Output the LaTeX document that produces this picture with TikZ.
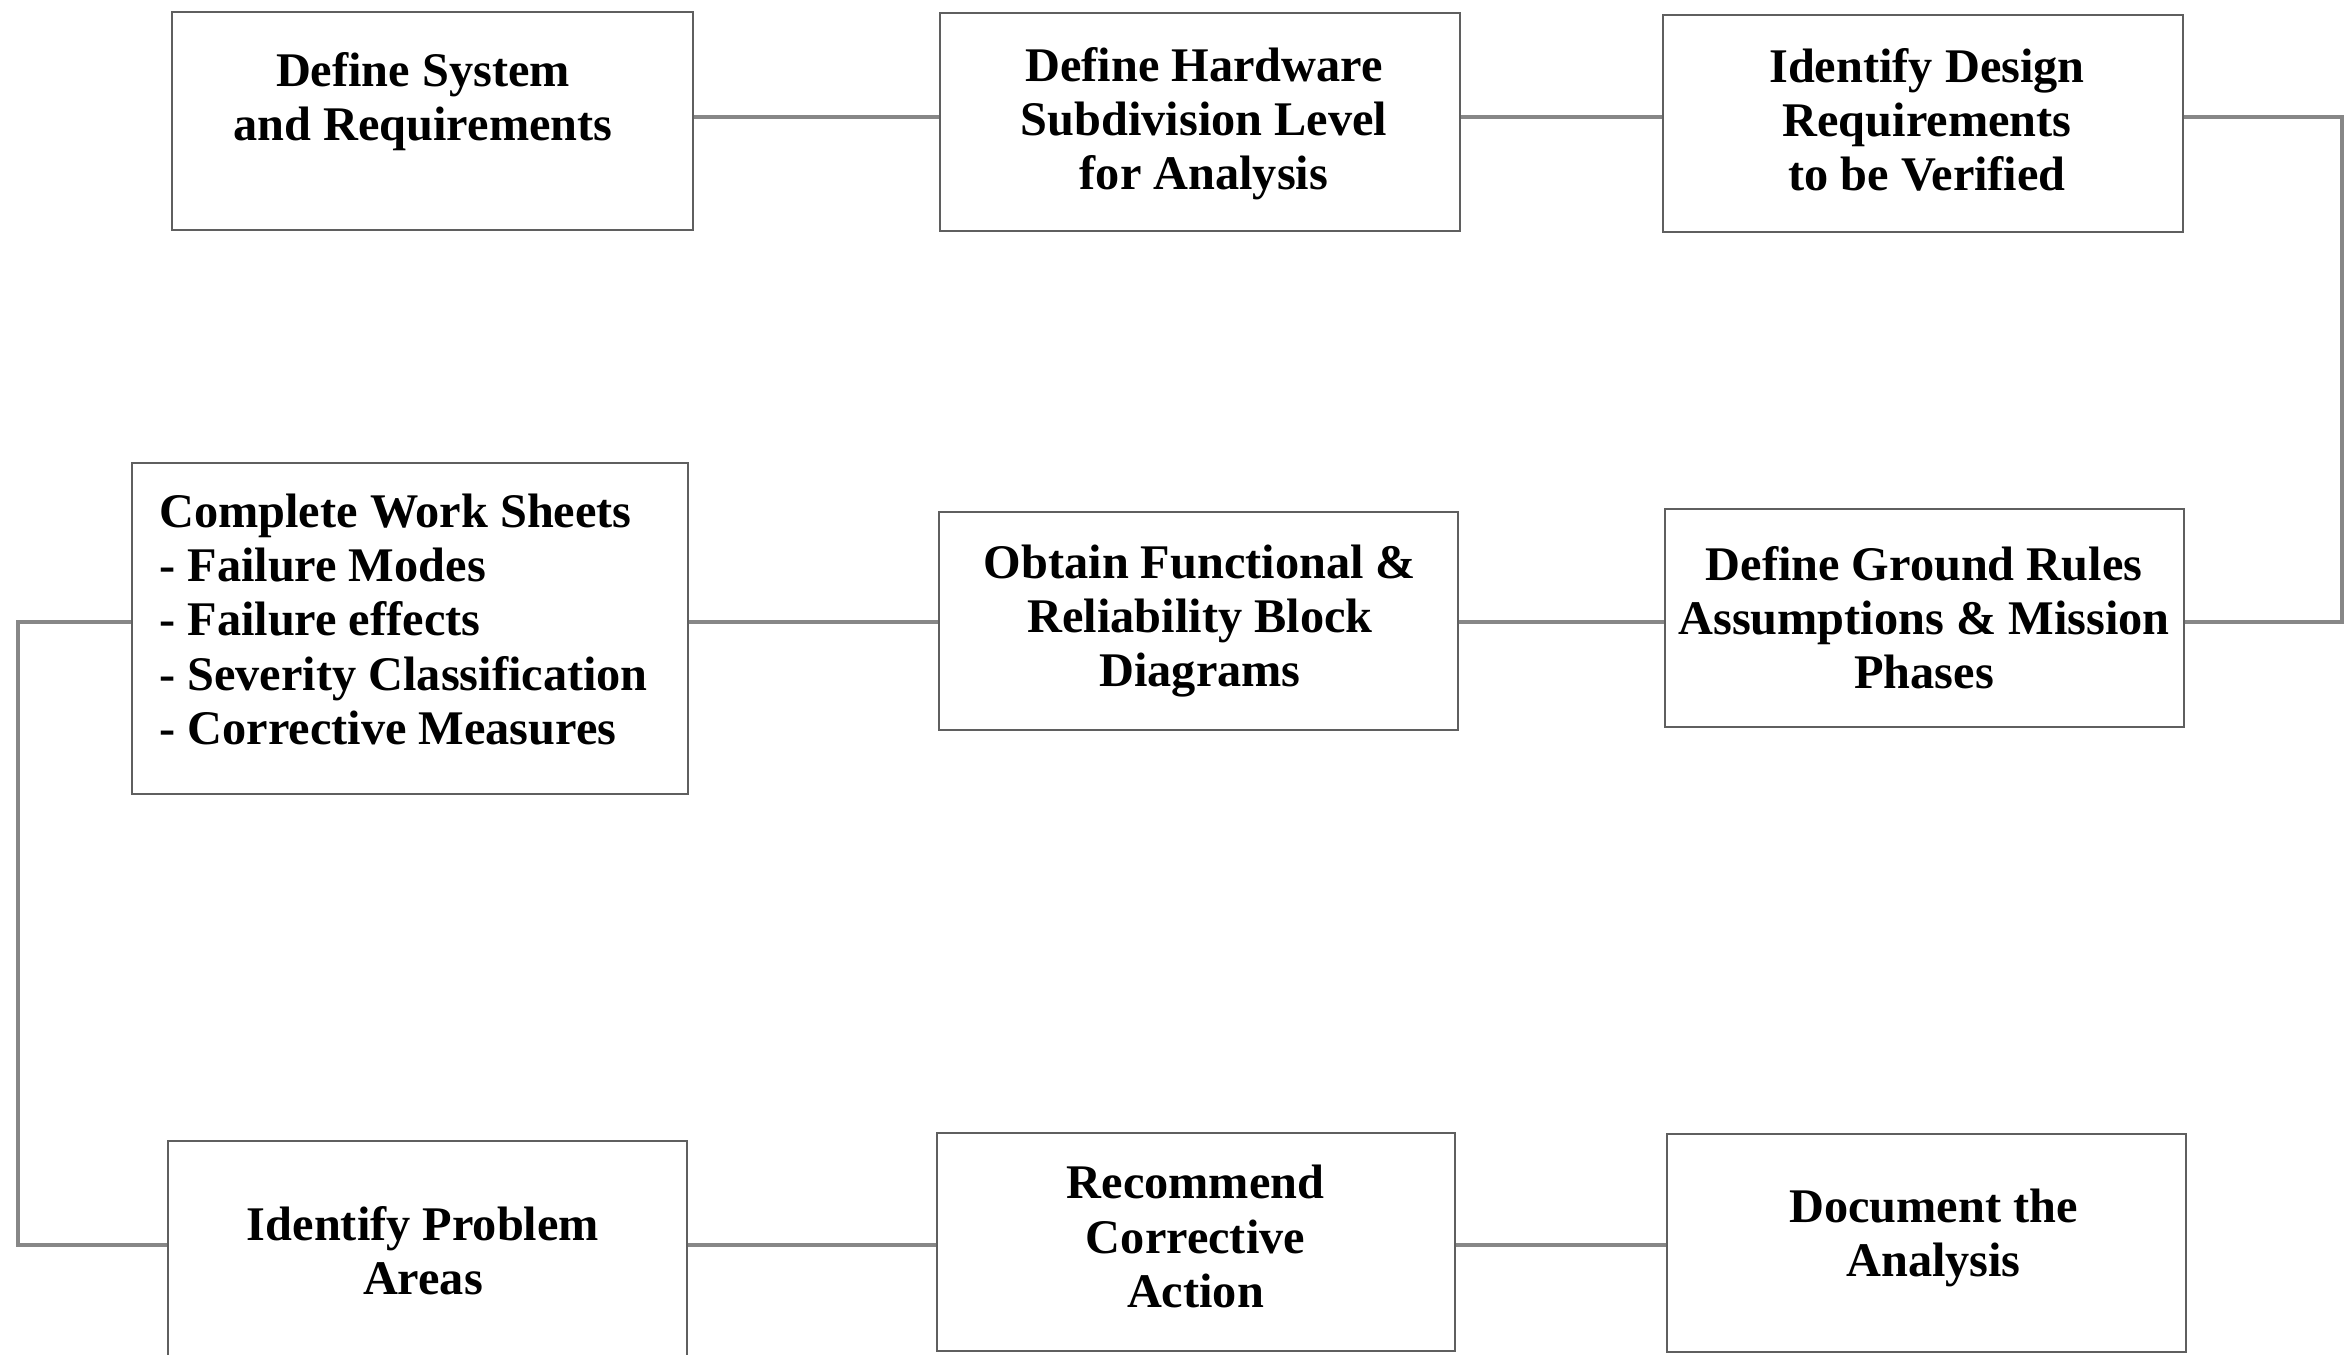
\documentclass[tikz,border=0pt]{standalone}
\usepackage{fontspec}
\setmainfont{Liberation Serif}
\definecolor{boxline}{RGB}{95,95,95}
\definecolor{connline}{RGB}{135,135,135}
\begin{document}
\begin{tikzpicture}[x=0.02cm,y=-0.02cm,
  box/.style={draw=boxline,line width=1.6pt,rectangle,inner sep=0pt,fill=white},
  txt/.style={font=\fontsize{27.5}{30.8}\selectfont\bfseries,align=center,inner sep=0pt},
  conn/.style={draw=connline,line width=2pt}]
\useasboundingbox (0,0) rectangle (2352,1355);
\fill[white] (0,0) rectangle (2352,1355);
% row coordinates
\coordinate (r1) at (0,117);
\coordinate (r2) at (0,622);
\coordinate (r3) at (0,1245);
\coordinate (cr) at (2342,370);
\coordinate (cl) at (18,900);
% boxes
\node[box,minimum width=521*0.02cm,minimum height=218*0.02cm] (b1) at (432.5,121) {};
\node[box,minimum width=520*0.02cm,minimum height=218*0.02cm] (b2) at (1200,122) {};
\node[box,minimum width=520*0.02cm,minimum height=217*0.02cm] (b3) at (1923,123.5) {};
\node[box,minimum width=556*0.02cm,minimum height=331*0.02cm] (b4) at (410,628.5) {};
\node[box,minimum width=519*0.02cm,minimum height=218*0.02cm] (b5) at (1198.5,621) {};
\node[box,minimum width=519*0.02cm,minimum height=218*0.02cm] (b6) at (1924.5,618) {};
\node[box,minimum width=519*0.02cm,minimum height=300*0.02cm] (b7) at (427.5,1291) {};
\node[box,minimum width=518*0.02cm,minimum height=218*0.02cm] (b8) at (1196,1242) {};
\node[box,minimum width=519*0.02cm,minimum height=218*0.02cm] (b9) at (1926.5,1243) {};
% texts
\node[txt] (t1) at (423,102) {Define System\\and Requirements};
\node[txt] (t2) at (1204,124) {Define Hardware\\Subdivision Level\\for Analysis};
\node[txt] (t3) at (1927,120) {Identify Design\\Requirements\\to be Verified};
\node[txt,align=left,anchor=west] (t4) at (159,619.5) {Complete Work Sheets\\- Failure Modes\\- Failure effects\\- Severity Classification\\- Corrective Measures};
\node[txt] (t5) at (1200,621) {Obtain Functional \&\\Reliability Block\\Diagrams};
\node[txt] (t6) at (1924,618) {Define Ground Rules\\Assumptions \& Mission\\Phases};
\node[txt] (t7) at (423,1250.5) {Identify Problem\\Areas};
\node[txt] (t8) at (1195.5,1236.5) {Recommend\\Corrective\\Action};
\node[txt] (t9) at (1933.5,1237.5) {Document the\\Analysis};
% connectors
\draw[conn] (b1.east |- r1) -- (b2.west |- r1);
\draw[conn] (b2.east |- r1) -- (b3.west |- r1);
\draw[conn] (b3.east |- r1) -| (cr) |- (b6.east |- r2);
\draw[conn] (b6.west |- r2) -- (b5.east |- r2);
\draw[conn] (b5.west |- r2) -- (b4.east |- r2);
\draw[conn] (b4.west |- r2) -| (cl) |- (b7.west |- r3);
\draw[conn] (b7.east |- r3) -- (b8.west |- r3);
\draw[conn] (b8.east |- r3) -- (b9.west |- r3);
\end{tikzpicture}
\end{document}
